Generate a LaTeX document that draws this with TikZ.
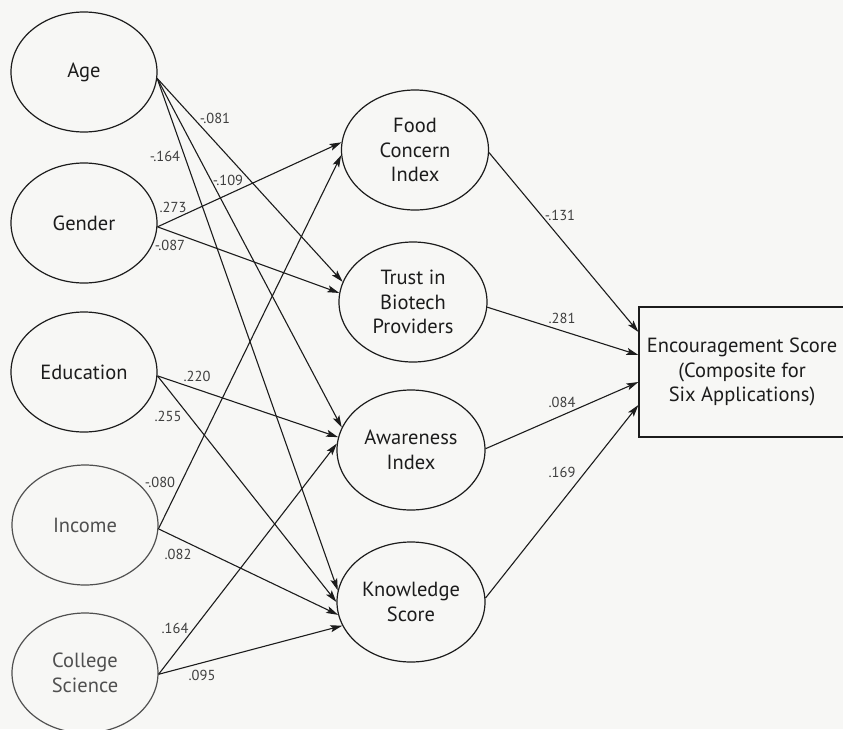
\documentclass[tikz,border=0pt]{standalone}
\usepackage{fontspec}
\setmainfont{PT Sans}
\usetikzlibrary{arrows.meta,shapes.geometric}
\definecolor{bg}{RGB}{247,247,245}
\definecolor{ink}{RGB}{28,28,28}
\definecolor{soft}{RGB}{80,80,80}
\begin{document}
\begin{tikzpicture}[x=1pt,y=-1pt,
  var/.style={ellipse, draw=ink, line width=1.2pt, minimum width=146pt, minimum height=120pt,
    inner sep=0pt, align=center, font=\fontsize{20.5}{24.5}\selectfont, text=ink},
  varsoft/.style={var, draw=soft, text=soft},
  pth/.style={draw=ink, line width=1.1pt, -{Stealth[length=12pt,width=7pt,inset=2.5pt]}},
  coef/.style={font=\fontsize{14.5}{15}\selectfont, text=ink!85, inner sep=0pt}
]
\useasboundingbox (0,0) rectangle (843,729);
\clip (0,0) rectangle (843,729);
\fill[bg] (0,0) rectangle (843,729);

% exogenous
\node[var] (age) at (84,72) {Age};
\node[var] (gender) at (84,223) {Gender};
\node[var] (edu) at (84,372) {Education};
\node[varsoft] (inc) at (85,525) {Income};
\node[varsoft] (col) at (85,673) {College\\Science};

% mediators
\node[var, minimum width=147pt] (food) at (415,150) {Food\\Concern\\Index};
\node[var, minimum width=148pt] (trust) at (413,302) {Trust in\\Biotech\\Providers};
\node[var, minimum width=148pt] (aware) at (411,450) {Awareness\\Index};
\node[var, minimum width=148pt] (know) at (411,602) {Knowledge\\Score};

% outcome
\node[draw=ink, line width=1.2pt, minimum width=206pt, minimum height=130pt, inner sep=0pt,
  align=center, font=\fontsize{20.5}{24.5}\selectfont, text=ink] (enc) at (742,372)
  {Encouragement Score\\(Composite for\\Six Applications)};

% paths from exogenous
\draw[pth] (age.-5) -- (trust.164);
\draw[pth] (age.-5) -- (aware.162);
\draw[pth] (age.-5) -- (know.171);
\draw[pth] (gender.-3) -- (food.174);
\draw[pth] (gender.-3) -- (trust.173);
\draw[pth] (edu.-3) -- (aware.170);
\draw[pth] (edu.-3) -- (know.180);
\draw[pth] (inc.-3) -- (food.-176);
\draw[pth] (inc.-3) -- (know.-170);
\draw[pth] (col.-1) -- (aware.175);
\draw[pth] (col.-1) -- (know.-161);

% paths to outcome
\draw[pth] (food.-2) -- ([yshift=40pt]enc.west);
\draw[pth] (trust.-4) -- ([yshift=17pt]enc.west);
\draw[pth] (aware.1) -- ([yshift=-10pt]enc.west);
\draw[pth] (know.3) -- ([yshift=-33pt]enc.west);

% coefficients
\node[coef] (c1) at (215,118) {-.081};
\node[coef] (c2) at (165,156) {-.164};
\node[coef] (c3) at (228,180) {-.109};
\node[coef] (c4) at (173,207) {.273};
\node[coef] (c5) at (170,245) {-.087};
\node[coef] (c6) at (197,376) {.220};
\node[coef] (c7) at (168,416) {.255};
\node[coef] (c8) at (160,482) {-.080};
\node[coef] (c9) at (178,554) {.082};
\node[coef] (c10) at (175,628) {.164};
\node[coef] (c11) at (202,675) {.095};
\node[coef] (c12) at (560,215) {-.131};
\node[coef] (c13) at (562,318) {.281};
\node[coef] (c14) at (562,402) {.084};
\node[coef] (c15) at (562,472) {.169};
\end{tikzpicture}
\end{document}
